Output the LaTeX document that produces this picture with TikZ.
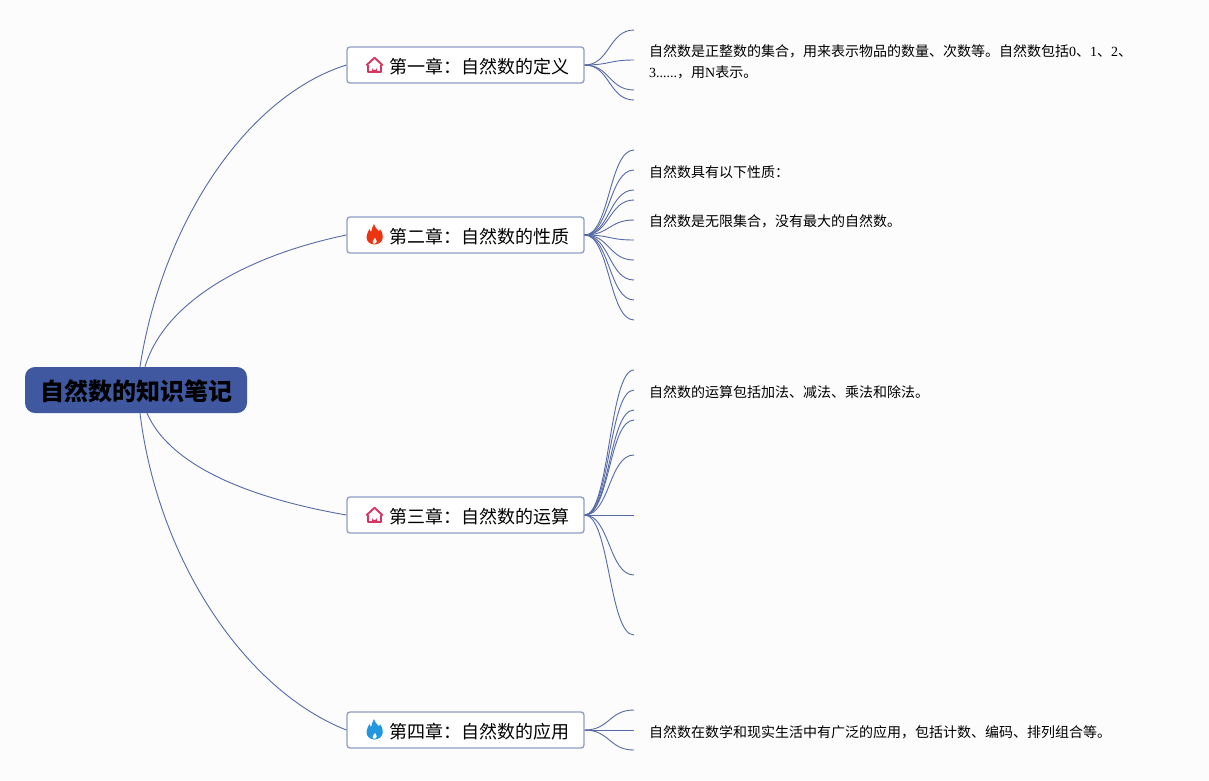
\documentclass[tikz,border=0pt]{standalone}
\usepackage{fontspec}
\setmainfont{Liberation Serif}
\newfontfamily\cjk{Noto Sans CJK SC}
\definecolor{bgc}{HTML}{FCFCFD}
\definecolor{rootc}{HTML}{3F58A0}
\definecolor{linec}{HTML}{566AA6}
\definecolor{boxc}{HTML}{8F9DC5}
\definecolor{housec}{HTML}{D9335F}
\definecolor{redf}{HTML}{EC3410}
\definecolor{bluef}{HTML}{2296DE}
\tikzset{
  rootnode/.style={fill=rootc,rounded corners=10pt,minimum width=222pt,minimum height=46pt,inner sep=0pt,
    font=\cjk\bfseries\fontsize{24}{28}\selectfont,text=black},
  chapter/.style={draw=boxc,line width=1.3pt,fill=white,rounded corners=3pt,minimum width=237pt,minimum height=36pt,inner sep=0pt,
    font=\cjk\fontsize{18}{22}\selectfont,text=black},
  leaftext/.style={anchor=west,inner sep=0pt,align=left,font=\fontsize{14}{20.5}\selectfont,text=black},
  rootedge/.style={draw=linec,line width=0.9pt},
  fan/.style={draw=linec,line width=0.9pt},
  pics/house/.style={code={
    \draw[housec,line width=1.9pt,line join=round,line cap=round]
      (-6.8,0.5) -- (-6.8,7) -- (6.8,7) -- (6.8,0.5);
    \draw[housec,line width=1.9pt,line join=round,line cap=round]
      (-7.8,0) -- (0,-7.3) -- (7.8,0);
    \fill[housec] (-2.5,7.5) -- (-2.5,2.6) arc[start angle=180,end angle=0,radius=2.5] -- (2.5,7.5) -- cycle;
  }},
  pics/flame/.style={code={
    \fill[#1,even odd rule] (-0.5,-10.5)
      .. controls (0.8,-6) and (3,-5.5) .. (4.5,-3.2)
      .. controls (5,-4) and (5.3,-4.5) .. (5.5,-5.3)
      .. controls (7.5,-3) and (8.7,0) .. (8.3,3)
      .. controls (7.8,7.5) and (4,10) .. (0,10)
      .. controls (-4.5,10) and (-8,7) .. (-8,2.5)
      .. controls (-8,-1) and (-6,-3) .. (-5,-5.5)
      .. controls (-4.5,-4) and (-4.3,-3) .. (-3.5,-2.2)
      .. controls (-2.8,-5) and (-2,-8) .. (-0.5,-10.5) -- cycle
      (0.6,3)
      .. controls (1,5) and (2.6,5.8) .. (2.4,7.5)
      .. controls (2.2,8.8) and (1.2,9.3) .. (0.4,9.3)
      .. controls (-0.8,9.3) and (-2,8.8) .. (-2.1,7.5)
      .. controls (-2.2,6) and (-0.2,5) .. (0.6,3) -- cycle;
  }},
}
\newcommand{\hz}[1]{{\cjk #1}}
\newcommand{\chaptext}[1]{\raisebox{-8.3pt}[0pt][0pt]{\hspace*{27pt}#1}}
\begin{document}
\begin{tikzpicture}[x=1pt,y=-1pt]
\useasboundingbox (0,0) rectangle (1209,780);
\fill[bgc] (0,0) rectangle (1209,780);

% fan end points
\foreach \n/\y in {1/30,2/60,3/90,4/100}{\coordinate (a\n) at (634,\y);}
\foreach \n/\y in {1/150,2/170,3/190,4/200,5/220,6/240,7/260,8/280,9/300,10/320}{\coordinate (b\n) at (634,\y);}
\foreach \n/\y in {1/370,2/390,3/410,4/420,5/455,6/515,7/575,8/635}{\coordinate (c\n) at (634,\y);}
\foreach \n/\y in {1/710,2/730,3/750}{\coordinate (d\n) at (634,\y);}

\path node[rootnode] (root) at (136,390) {\raisebox{-10.8pt}[0pt][0pt]{自然数的知识笔记}};
\path node[chapter] (ch1) at (465.5,65) {\chaptext{第一章：自然数的定义}};
\path node[chapter] (ch2) at (465.5,235) {\chaptext{第二章：自然数的性质}};
\path node[chapter] (ch3) at (465.5,515) {\chaptext{第三章：自然数的运算}};
\path node[chapter] (ch4) at (465.5,730) {\chaptext{第四章：自然数的应用}};

\draw[rootedge] ([xshift=4pt]root.north) .. controls (162,225) and (245,97) .. (ch1.west);
\draw[rootedge] ([xshift=9pt]root.north) .. controls (165,300) and (250,255) .. (ch2.west);
\draw[rootedge] ([xshift=11pt]root.south) .. controls (172,470) and (260,500) .. (ch3.west);
\draw[rootedge] ([xshift=4pt]root.south) .. controls (158,560) and (245,690) .. (ch4.west);

% chapter-to-leaf fans
\foreach \n in {1,...,4}{\draw[fan] (ch1.east) .. controls +(25,0) and ([xshift=-25pt]a\n) .. (a\n);}
\foreach \n in {1,...,10}{\draw[fan] (ch2.east) .. controls +(25,0) and ([xshift=-25pt]b\n) .. (b\n);}
\foreach \n in {1,...,8}{\draw[fan] (ch3.east) .. controls +(25,0) and ([xshift=-25pt]c\n) .. (c\n);}
\foreach \n in {1,...,3}{\draw[fan] (ch4.east) .. controls +(25,0) and ([xshift=-25pt]d\n) .. (d\n);}

% icons
\pic at (374.5,65) {house};
\pic at (374.5,234.5) {flame=redf};
\pic at (374.5,515) {house};
\pic at (374.5,729.5) {flame=bluef};

% leaf texts
\node[leaftext] (t1) at (649,61.8) {\hz{自然数是正整数的集合，用来表示物品的数量、次数等。自然数包括}0\hz{、}1\hz{、}2\hz{、}\\3......\hz{，用}N\hz{表示。}};
\node[leaftext] (t2) at (649,171.8) {\hz{自然数具有以下性质：}};
\node[leaftext] (t3) at (649,221.8) {\hz{自然数是无限集合，没有最大的自然数。}};
\node[leaftext] (t4) at (649,391.8) {\hz{自然数的运算包括加法、减法、乘法和除法。}};
\node[leaftext] (t5) at (649,731.8) {\hz{自然数在数学和现实生活中有广泛的应用，包括计数、编码、排列组合等。}};
\end{tikzpicture}
\end{document}
